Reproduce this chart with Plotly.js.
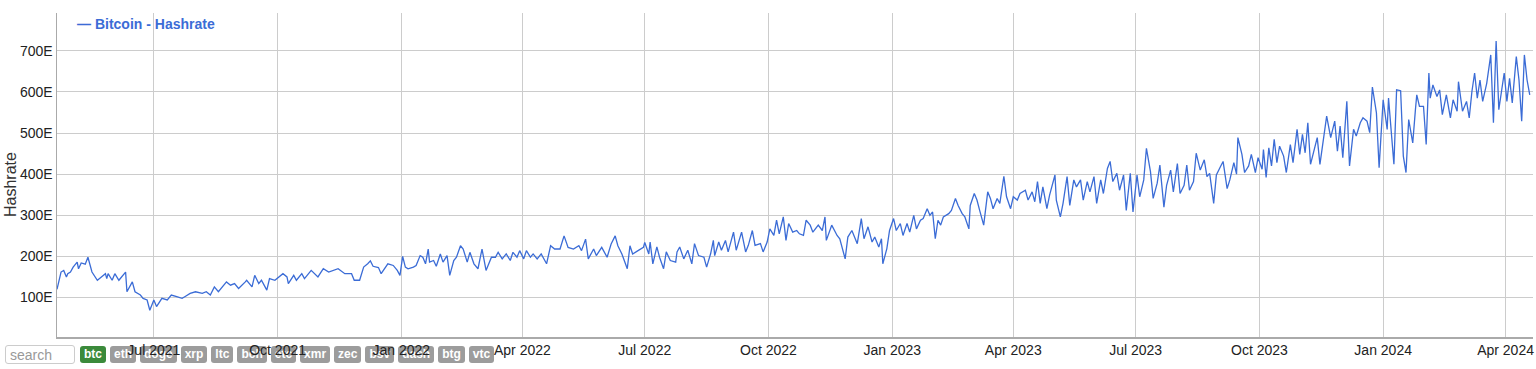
<!DOCTYPE html>
<html>
<head>
<meta charset="utf-8">
<script src="https://cdn.plot.ly/plotly-3.0.1.min.js"></script>
<style>
  html, body { margin: 0; padding: 0; background: #fff; }
  body { width: 1536px; height: 369px; overflow: hidden; position: relative; font-family: Arial, "Liberation Sans", sans-serif; }
  #controls { position: absolute; left: 5px; top: 345px; display: flex; align-items: center; gap: 4px; z-index: 0; }
  #controls input { width: 70px; height: 19px; box-sizing: border-box; border: 1px solid #ccc; border-radius: 3px; font-size: 14px; padding: 0 4px; margin-right: 1px; font-family: Arial, "Liberation Sans", sans-serif; color: #999; }
  #controls input::placeholder { color: #999; }
  .coin { display: inline-block; height: 17px; line-height: 17px; padding: 0 4px; border-radius: 3px; background: #9c9c9c; color: #fff; font-weight: bold; font-size: 12px; }
  .coin.active { background: #3b8a3b; }
  #chart { position: absolute; left: 0; top: 0; width: 1536px; height: 369px; z-index: 1; pointer-events: none; }
</style>
</head>
<body>
<div id="controls"></div>
<div id="chart"></div>
<script>
// ---- data ----
const startDate = Date.UTC(2021, 3, 20); // 2021-04-20
const dayOffsets = [
0,1,3,5,7,8,10,12,15,16,18,21,23,26,30,33,36,37,38,41,43,46,51,52,56,58,62,64,67,69,72,74,78,82,85,89,93,95,99,103,108,111,114,117,120,126,129,132,135,140,141,145,147,150,152,156,158,162,165,168,171,172,176,178,182,184,189,194,198,202,209,214,219,221,
225,228,231,233,235,239,241,246,250,253,255,257,259,261,265,267,270,272,274,276,277,280,282,285,287,290,292,295,297,300,302,305,307,310,313,316,319,323,326,328,331,334,337,339,342,344,347,349,352,354,357,360,364,367,370,374,377,380,384,388,390,393,395,399,401,405,409,412,415,417,420,424,426,428,432,436,437,440,
441,443,446,448,451,453,456,460,461,463,466,469,472,474,477,481,483,486,488,489,492,494,497,499,503,505,509,512,514,517,519,523,525,528,530,533,535,537,540,542,544,547,550,552,555,557,560,562,566,569,571,572,576,580,582,586,588,591,595,598,600,603,606,608,611,613,614,617,619,622,624,627,629,632,634,637,639,642,644,647,649,651,653,655,
657,659,663,665,668,670,673,675,678,679,682,684,686,689,692,694,696,699,701,704,706,709,711,714,716,720,722,725,727,729,731,733,736,738,742,743,746,748,751,753,756,758,761,763,766,768,771,773,776,778,781,783,785,788,790,793,795,798,800,803,805,808,810,813,815,818,820,823,825,828,830,833,835,838,840,842,845,847,850,853,855,857,860,862,865,867,870,872,
875,877,878,881,883,886,888,891,893,896,897,899,901,903,905,907,909,912,914,917,919,922,924,926,928,930,932,935,937,939,941,944,947,950,952,954,956,959,961,964,966,969,971,974,976,978,981,983,986,989,990,994,996,999,1001,1003,1005,1008,1010,1011,1013,1016,1018,1020,1021,1023,1026,1028,1030,1033,1036,1038,1041,1042,1045,1048,1050,1052,1054,1056,1058,1060,1063,1066,1068,1070,1072,1074,1076,1078,1080,1082,1085,1087,1089,1091,1093,1095
];
const hashrate = [
120,134,162,166,150,158,162,174,186,170,184,181,198,162,142,150,158,146,158,142,158,142,162,114,138,114,106,98,94,69,94,78,98,94,106,102,98,102,110,114,110,114,106,126,114,138,130,134,122,138,142,126,154,134,142,118,146,142,150,158,150,134,154,142,158,146,166,150,170,162,170,158,158,142,
142,174,182,189,176,173,158,182,178,166,154,200,174,170,174,178,202,198,182,218,186,190,176,206,186,202,154,190,198,226,218,186,210,182,170,218,166,198,198,210,194,206,190,210,198,214,194,214,198,206,194,206,182,226,218,218,250,222,218,226,214,242,194,218,202,222,198,230,250,226,206,170,226,206,214,222,234,206,
235,182,223,198,170,211,190,186,211,223,194,215,182,231,202,198,174,207,239,202,235,215,239,211,259,215,259,211,227,263,227,231,211,235,267,251,288,255,296,239,280,259,263,255,251,288,276,259,276,263,296,239,276,251,243,194,247,263,231,292,243,272,235,247,223,243,182,219,263,292,263,280,251,280,259,300,267,288,292,316,300,308,243,288,
276,296,304,312,341,324,304,296,267,324,353,337,312,276,357,341,316,341,329,395,345,316,345,337,353,361,337,357,333,382,329,369,316,349,398,337,296,329,394,324,386,369,386,337,382,357,394,329,386,353,414,431,382,402,361,398,312,402,308,398,345,386,463,406,341,378,422,320,373,410,357,426,353,373,422,361,382,451,410,435,394,402,329,398,418,431,365,386,
428,400,489,448,404,420,448,404,440,412,460,392,464,420,485,428,468,444,404,472,428,509,448,497,452,525,424,460,489,424,468,541,489,529,456,517,440,577,420,509,493,525,537,529,501,612,549,416,581,509,585,424,605,603,444,404,533,476,557,593,565,565,472,646,585,617,589,605,545,593,537,581,553,625,553,577,537,601,646,585,629,577,621,690,525,724,557,597,646,577,633,573,686,629,529,690,629,593
];
const seriesName = "Bitcoin - Hashrate";
const yTickValues = [100, 200, 300, 400, 500, 600, 700];
const yTickLabels = ["100E", "200E", "300E", "400E", "500E", "600E", "700E"];
const xTickDates = ["2021-07-01","2021-10-01","2022-01-01","2022-04-01","2022-07-01","2022-10-01","2023-01-01","2023-04-01","2023-07-01","2023-10-01","2024-01-01","2024-04-01"];
const xTickLabels = ["Jul 2021","Oct 2021","Jan 2022","Apr 2022","Jul 2022","Oct 2022","Jan 2023","Apr 2023","Jul 2023","Oct 2023","Jan 2024","Apr 2024"];
const coins = ["btc","eth","doge","xrp","ltc","bch","etc","xmr","zec","bsv","dash","btg","vtc"];
const activeCoin = "btc";

// ---- controls (html) ----
const ctr = document.getElementById('controls');
const inp = document.createElement('input');
inp.placeholder = 'search';
ctr.appendChild(inp);
coins.forEach(c => {
  const s = document.createElement('span');
  s.className = 'coin' + (c === activeCoin ? ' active' : '');
  s.textContent = c;
  ctr.appendChild(s);
});

// ---- chart ----
const dates = dayOffsets.map(d => new Date(startDate + d * 86400000).toISOString().slice(0, 10));
const lineColor = 'rgb(59,108,214)';
const fontFam = 'Arial, "Liberation Sans", sans-serif';

const trace = {
  x: dates, y: hashrate, type: 'scatter', mode: 'lines', name: seriesName,
  line: { color: lineColor, width: 1.3 }, hoverinfo: 'skip'
};

const layout = {
  width: 1536, height: 369,
  margin: { l: 57, r: 3, t: 13, b: 32 },
  paper_bgcolor: 'rgba(0,0,0,0)', plot_bgcolor: 'rgba(0,0,0,0)',
  showlegend: false,
  font: { family: fontFam, size: 14, color: '#222' },
  xaxis: {
    type: 'date', range: ['2021-04-20', '2024-04-21 10:00'],
    tickmode: 'array', tickvals: xTickDates, ticktext: xTickLabels,
    showgrid: true, gridcolor: '#cccccc', gridwidth: 1,
    showline: true, linecolor: '#aaaaaa', linewidth: 1.5,
    ticks: '', zeroline: false, tickfont: { size: 14, color: '#222' }
  },
  yaxis: {
    range: [4, 792],
    tickmode: 'array', tickvals: yTickValues, ticktext: yTickLabels,
    showgrid: true, gridcolor: '#cccccc', gridwidth: 1,
    showline: true, linecolor: '#aaaaaa', linewidth: 1.5,
    ticks: '', zeroline: false, tickfont: { size: 14, color: '#222' }
  },
  annotations: [
    { xref: 'paper', yref: 'paper', x: (75 - 57) / 1476, y: (337 - 24) / 324,
      xanchor: 'left', yanchor: 'middle', showarrow: false,
      text: '<b>\u2014 ' + seriesName + '</b>', font: { family: fontFam, size: 14, color: lineColor } },
    { xref: 'paper', yref: 'paper', x: (10 - 57) / 1476, y: (337 - 185) / 324,
      xanchor: 'center', yanchor: 'middle', showarrow: false, textangle: -90,
      text: 'Hashrate', font: { family: fontFam, size: 16, color: '#333' } }
  ]
};

Plotly.newPlot('chart', [trace], layout, { staticPlot: true, displayModeBar: false });
</script>
</body>
</html>
